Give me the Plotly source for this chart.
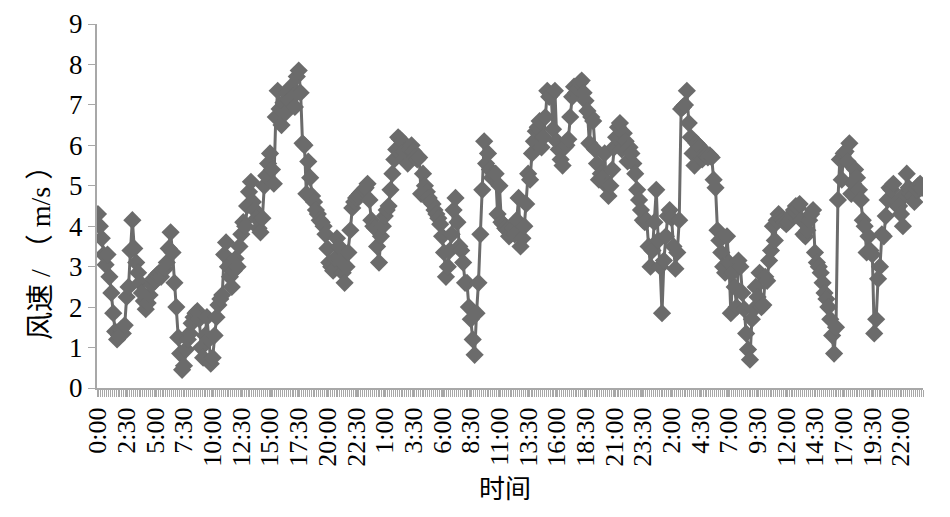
import plotly.graph_objects as go

day1 = [
    4.3, 4.0, 3.7, 3.3, 3.05, 3.3, 2.75, 2.35, 1.85, 1.4, 1.2, 1.3,
    1.45, 1.35, 1.55, 2.25, 2.5, 3.4, 4.15, 3.45, 3.1, 2.85, 2.6, 2.35,
    2.15, 1.95, 2.1, 2.3, 2.55, 2.7, 2.65, 2.8, 2.85, 2.75, 2.9, 2.95,
    3.1, 3.45, 3.85, 3.35, 2.6, 2.0, 1.25, 0.85, 0.45, 0.55, 0.95, 1.2,
    1.35, 1.6, 1.75, 1.85, 1.9, 1.7, 1.0, 0.75, 1.3, 1.75, 1.2, 0.6,
    0.75, 1.3, 1.75, 2.05, 2.2, 2.3, 3.3, 3.6, 3.0, 2.75, 2.5, 2.9,
    3.2, 3.0, 3.5, 3.8, 4.1, 4.0, 4.5, 4.85, 5.1, 4.6, 4.4, 4.2,
    3.95, 3.85, 4.2, 5.0, 5.25, 5.55, 5.8, 5.4, 5.05, 6.7, 7.35, 6.9,
    6.5, 7.05, 6.8, 7.3, 7.1, 7.45, 7.2, 6.95, 7.7, 7.85, 7.3, 6.05,
    6.0, 4.8, 5.6, 5.2, 4.75, 4.6, 4.4, 4.3, 4.15, 4.1, 4.0, 3.8,
    3.45, 3.1, 3.0, 2.9, 3.2, 3.7, 3.5, 3.15, 2.85, 2.6, 3.0, 3.35,
    3.9, 4.45, 4.6, 4.7, 4.75, 4.8, 4.85, 4.9, 4.95, 5.05, 4.65, 4.15,
]
day2 = [
    4.0, 3.95, 3.5, 3.1, 3.75, 4.0, 4.25, 4.4, 4.5, 4.9, 5.3, 5.65,
    5.9, 6.2, 6.15, 6.1, 5.85, 5.7, 5.55, 5.9, 6.0, 5.85, 5.7, 5.65,
    5.7, 4.8, 5.3, 5.0, 4.85, 4.7, 4.6, 4.55, 4.4, 4.3, 4.2, 4.05,
    3.75, 3.35, 2.75, 3.0, 3.4, 3.8, 4.4, 4.7, 4.1, 3.5, 3.4, 3.1,
    2.6, 2.6, 2.0, 1.7, 1.2, 0.82, 1.85, 2.6, 3.8, 4.9, 6.1, 5.55,
    5.8, 5.4, 5.2, 5.3, 5.3, 4.3, 5.0, 4.1, 4.05, 3.95, 3.9, 3.75,
    3.8, 3.95, 3.8, 4.15, 4.7, 3.5, 3.7, 4.0, 4.55, 5.3, 5.15, 5.8,
    6.1, 6.35, 6.45, 6.6, 5.95, 6.2, 6.7, 7.35, 7.2, 7.25, 6.4, 7.35,
    6.1, 5.9, 5.65, 5.5, 5.95, 6.0, 6.15, 6.7, 7.2, 7.45, 7.3, 7.4,
    7.55, 7.6, 7.3, 7.1, 6.85, 6.05, 6.7, 6.6, 5.9, 5.55, 5.15, 5.3,
    5.2, 5.8, 5.0, 4.75, 5.0, 5.4, 5.95, 6.2, 6.45, 6.55, 5.9, 6.3,
    6.1, 5.6, 5.95, 5.8, 5.55, 5.3, 4.9, 4.65, 4.4, 4.15, 4.1, 4.15,
]
day3 = [
    3.5, 3.0, 3.4, 4.1, 4.9, 3.65, 3.0, 1.85, 3.15, 3.75, 4.25, 4.4,
    4.2, 3.5, 2.95, 3.35, 4.15, 6.9, 6.95, 7.0, 7.35, 6.55, 6.2, 5.8,
    5.5, 6.05, 6.0, 5.95, 5.65, 5.8, 5.75, 5.7, 5.75, 5.7, 5.15, 4.95,
    3.9, 3.65, 3.35, 3.0, 2.85, 3.75, 3.1, 1.85, 2.85, 2.5, 2.0, 3.15,
    3.0, 2.35, 1.95, 1.35, 0.95, 0.7, 1.7, 1.95, 2.5, 2.25, 2.85, 2.0,
    2.05, 2.75, 2.65, 3.15, 3.4, 4.0, 3.65, 4.15, 4.3, 4.2, 4.15, 4.1,
    4.05, 4.1, 4.15, 4.3, 4.4, 4.5, 4.45, 4.55, 4.15, 3.8, 3.75, 3.9,
    4.15, 4.3, 4.4, 3.35, 3.1, 3.0, 2.85, 2.6, 2.35, 2.2, 2.0, 1.7,
    1.3, 0.85, 1.5, 4.65, 5.65, 5.15, 5.8, 5.85, 5.6, 6.05, 4.8, 5.05,
    5.4, 5.2, 4.9, 4.65, 4.15, 4.0, 3.35, 3.75, 3.4, 3.3, 1.35, 1.7,
    2.7, 3.0, 3.8, 3.75, 4.25, 4.65, 4.95, 4.9, 5.05, 4.55, 4.6, 4.5,
    4.3, 4.0, 4.8, 5.3, 4.95, 4.8, 4.75, 4.6, 4.9, 5.0, 5.05, 4.95,
]

tick_labels = [
    "0:00", "2:30", "5:00", "7:30", "10:00", "12:30", "15:00", "17:30",
    "20:00", "22:30", "1:00", "3:30", "6:00", "8:30", "11:00", "13:30",
    "16:00", "18:30", "21:00", "23:30", "2:00", "4:30", "7:00", "9:30",
    "12:00", "14:30", "17:00", "19:30", "22:00",
]
label_step = 15  # one label every 15 ten-minute samples
y_ticks = [0, 1, 2, 3, 4, 5, 6, 7, 8, 9]
x_title = "时间"
y_title = "风速 / （ m/s ）"

speed = day1 + day2 + day3
idx = list(range(len(speed)))
tick_pos = [label_step * k for k in range(len(tick_labels))]

FONT = "Liberation Serif, Times New Roman, Noto Sans CJK SC, serif"
GRAY = "#6b6b6b"
AXIS = "#a8a8a8"

fig = go.Figure()
fig.add_trace(go.Scatter(
    x=idx, y=speed, mode="lines+markers",
    line=dict(color=GRAY, width=3),
    marker=dict(symbol="diamond", size=14, color=GRAY, line=dict(width=0)),
    showlegend=False, hoverinfo="skip",
))

# page body has an 8px margin, so the figure is 942x509 placed at (8, 8)
fig.update_layout(
    width=942, height=509,
    margin=dict(l=89, r=27, t=16, b=129, autoexpand=False),
    paper_bgcolor="white", plot_bgcolor="white",
    font=dict(family=FONT, size=26, color="black"),
)
fig.update_xaxes(
    range=[-0.5, len(speed) - 0.5], automargin=False,
    tickmode="array", tickvals=tick_pos, ticktext=tick_labels,
    tickangle=-90, tickfont=dict(family=FONT, size=26, color="black"),
    ticks="outside", ticklen=7, tickcolor=AXIS, tickwidth=1,
    minor=dict(ticks="outside", tickmode="linear", tick0=-0.5, dtick=1,
               ticklen=7, tickcolor=AXIS, tickwidth=1, showgrid=False),
    showline=True, linecolor=AXIS, linewidth=2,
    showgrid=False, zeroline=False,
)
fig.update_yaxes(
    range=[0, 9], tickmode="array", tickvals=y_ticks, automargin=False,
    tickfont=dict(family=FONT, size=27, color="black"),
    ticks="outside", ticklen=7, tickcolor=AXIS, tickwidth=1,
    showline=True, linecolor=AXIS, linewidth=2,
    showgrid=False, zeroline=False,
)
fig.add_annotation(
    text=x_title, xref="paper", yref="paper", x=0.494, y=-0.28,
    xanchor="center", yanchor="middle", showarrow=False,
    font=dict(family=FONT, size=26, color="black"),
)
fig.add_annotation(
    text=y_title, xref="paper", yref="paper", x=-0.069, y=0.39,
    xanchor="center", yanchor="middle", showarrow=False, textangle=-90,
    font=dict(family=FONT, size=28, color="black"),
)

fig.write_html("out.html")
